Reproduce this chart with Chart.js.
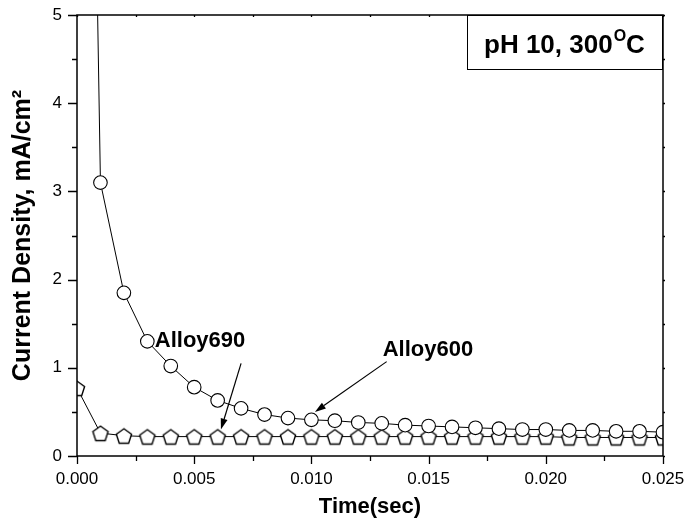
<!DOCTYPE html>
<html>
<head>
<meta charset="utf-8">
<script src="https://cdn.jsdelivr.net/npm/chart.js@4.4.1/dist/chart.umd.min.js"></script>
<style>
  html, body { margin: 0; padding: 0; background: #fff; }
  #wrap { width: 685px; height: 527px; }
</style>
</head>
<body>
<div id="wrap"><canvas id="chart" width="685" height="527"></canvas></div>
<script>
// time axis (sec)
const times = [0, 0.001, 0.002, 0.003, 0.004, 0.005, 0.006, 0.007, 0.008, 0.009,
  0.010, 0.011, 0.012, 0.013, 0.014, 0.015, 0.016, 0.017, 0.018, 0.019,
  0.020, 0.021, 0.022, 0.023, 0.024, 0.025];

// current density, mA/cm2
const alloy600 = [19, 3.1, 1.85, 1.3, 1.02, 0.78, 0.63, 0.54, 0.47, 0.43,
  0.41, 0.40, 0.38, 0.37, 0.35, 0.34, 0.33, 0.32, 0.31, 0.30,
  0.30, 0.29, 0.29, 0.28, 0.28, 0.27];
const alloy690 = [0.77, 0.26, 0.23, 0.22, 0.22, 0.22, 0.22, 0.22, 0.22, 0.22,
  0.22, 0.22, 0.22, 0.22, 0.22, 0.22, 0.22, 0.22, 0.22, 0.22,
  0.22, 0.21, 0.21, 0.21, 0.21, 0.21];

const xTicks = [0, 0.005, 0.010, 0.015, 0.020, 0.025];
const yTicks = [0, 1, 2, 3, 4, 5];

const FONT = '"Liberation Sans", Arial, sans-serif';

// pentagon marker
function makePentagon(r) {
  const size = 2 * Math.ceil(r + 2);
  const c = document.createElement('canvas');
  c.width = size; c.height = size;
  const g = c.getContext('2d');
  const cx = size / 2, cy = size / 2 + 1;
  g.beginPath();
  for (let i = 0; i < 5; i++) {
    const a = -Math.PI / 2 + i * 2 * Math.PI / 5;
    const px = cx + r * Math.cos(a), py = cy + r * Math.sin(a);
    if (i === 0) g.moveTo(px, py); else g.lineTo(px, py);
  }
  g.closePath();
  g.fillStyle = '#fff';
  g.fill();
  g.strokeStyle = '#000';
  g.lineWidth = 1.4;
  g.stroke();
  return c;
}
const pentagon = makePentagon(8);

const toPoints = (ys) => times.map((t, i) => ({ x: t, y: ys[i] }));

// annotation placement (data units)
const notes = [
  { text: 'Alloy690', lx: 0.00525, ly: 1.30, from: [0.0070, 1.05], to: [0.00614, 0.30] },
  { text: 'Alloy600', lx: 0.01497, ly: 1.20, from: [0.01321, 1.07], to: [0.01015, 0.50] }
];

const framePlugin = {
  id: 'frame',
  afterDatasetsDraw(chart) {
    const { ctx, chartArea: a, scales } = chart;
    const xs = scales.x, ys = scales.y;
    ctx.save();
    ctx.strokeStyle = '#000';
    ctx.lineWidth = 1.5;
    ctx.strokeRect(a.left, a.top, a.right - a.left, a.bottom - a.top);

    ctx.lineWidth = 1.3;
    ctx.beginPath();
    // x ticks: major 0.005, minor 0.0025
    for (let i = 0; i <= 10; i++) {
      const px = Math.round(xs.getPixelForValue(i * 0.0025)) + 0.5;
      const major = i % 2 === 0;
      const len = major ? 8 : 5;
      ctx.moveTo(px, a.bottom); ctx.lineTo(px, a.bottom + len);
      ctx.moveTo(px, a.top); ctx.lineTo(px, a.top + 2);
    }
    // y ticks: major 1, minor 0.5
    for (let i = 0; i <= 10; i++) {
      const py = Math.round(ys.getPixelForValue(i * 0.5)) + 0.5;
      const major = i % 2 === 0;
      const len = major ? 9 : 5;
      ctx.moveTo(a.left, py); ctx.lineTo(a.left - len, py);
      ctx.moveTo(a.right, py); ctx.lineTo(a.right + 2, py);
    }
    ctx.stroke();

    // condition box
    const bw = 196, bh = 54;
    ctx.fillStyle = '#fff';
    ctx.fillRect(a.right - bw, a.top, bw, bh);
    ctx.lineWidth = 1;
    ctx.strokeRect(a.right - bw + 0.5, a.top + 0.5, bw - 1, bh);
    ctx.fillStyle = '#000';
    ctx.textBaseline = 'alphabetic';
    ctx.textAlign = 'left';
    ctx.font = 'bold 26px ' + FONT;
    let tx = a.right - bw + 17;
    const ty = a.top + 38;
    const main = 'pH 10, 300';
    ctx.fillText(main, tx, ty);
    tx += ctx.measureText(main).width + 1;
    ctx.font = 'bold 16px ' + FONT;
    ctx.fillText('O', tx, ty - 12);
    tx += ctx.measureText('O').width;
    ctx.font = 'bold 26px ' + FONT;
    ctx.fillText('C', tx, ty);

    // labels with arrows
    notes.forEach(n => {
      ctx.font = 'bold 22px ' + FONT;
      ctx.textAlign = 'center';
      ctx.textBaseline = 'middle';
      ctx.fillText(n.text, xs.getPixelForValue(n.lx), ys.getPixelForValue(n.ly));
      const x0 = xs.getPixelForValue(n.from[0]), y0 = ys.getPixelForValue(n.from[1]);
      const x1 = xs.getPixelForValue(n.to[0]), y1 = ys.getPixelForValue(n.to[1]);
      const ang = Math.atan2(y1 - y0, x1 - x0);
      const hl = 11, hw = 3.5;
      const bx = x1 - hl * Math.cos(ang), by = y1 - hl * Math.sin(ang);
      ctx.lineWidth = 1.2;
      ctx.beginPath();
      ctx.moveTo(x0, y0); ctx.lineTo(bx, by);
      ctx.stroke();
      ctx.beginPath();
      ctx.moveTo(x1, y1);
      ctx.lineTo(bx + hw * Math.sin(ang), by - hw * Math.cos(ang));
      ctx.lineTo(bx - hw * Math.sin(ang), by + hw * Math.cos(ang));
      ctx.closePath();
      ctx.fill();
    });
    ctx.restore();
  }
};

new Chart(document.getElementById('chart'), {
  type: 'line',
  data: {
    datasets: [
      {
        label: 'Alloy600',
        data: toPoints(alloy600),
        borderColor: '#000',
        borderWidth: 1,
        pointStyle: 'circle',
        pointRadius: 6.8,
        pointBorderWidth: 1.1,
        pointBorderColor: '#000',
        pointBackgroundColor: '#fff',
        tension: 0,
        clip: 0
      },
      {
        label: 'Alloy690',
        data: toPoints(alloy690),
        borderColor: '#000',
        borderWidth: 1,
        pointStyle: pentagon,
        pointRadius: 8,
        tension: 0,
        clip: 0
      }
    ]
  },
  options: {
    responsive: false,
    animation: false,
    layout: { padding: { top: 15, right: 22, left: 0, bottom: 0 } },
    plugins: {
      legend: { display: false },
      tooltip: { enabled: false }
    },
    scales: {
      x: {
        type: 'linear',
        min: 0,
        max: 0.025,
        afterBuildTicks: (s) => { s.ticks = xTicks.map(v => ({ value: v })); },
        afterFit: (s) => { s.height = 71; s.paddingLeft = 0; s.paddingRight = 0; },
        grid: { display: false, drawTicks: false },
        border: { display: false },
        ticks: {
          padding: 13,
          color: '#000',
          font: { family: FONT, size: 17 },
          maxRotation: 0,
          callback: (v) => v.toFixed(3)
        },
        title: {
          display: true,
          text: 'Time(sec)',
          color: '#000',
          font: { family: FONT, size: 22, weight: 'bold' },
          padding: { top: 0, bottom: 7 }
        }
      },
      y: {
        min: 0,
        max: 5,
        afterBuildTicks: (s) => { s.ticks = yTicks.map(v => ({ value: v })); },
        afterFit: (s) => { s.width = 77; s.paddingTop = 0; s.paddingBottom = 0; },
        grid: { display: false, drawTicks: false },
        border: { display: false },
        ticks: {
          padding: 15,
          color: '#000',
          font: { family: FONT, size: 17 },
          callback: (v) => String(v)
        },
        title: {
          display: true,
          text: 'Current Density, mA/cm²',
          color: '#000',
          font: { family: FONT, size: 25, weight: 'bold' },
          padding: { top: 8, bottom: 0 }
        }
      }
    }
  },
  plugins: [framePlugin]
});
</script>
</body>
</html>
